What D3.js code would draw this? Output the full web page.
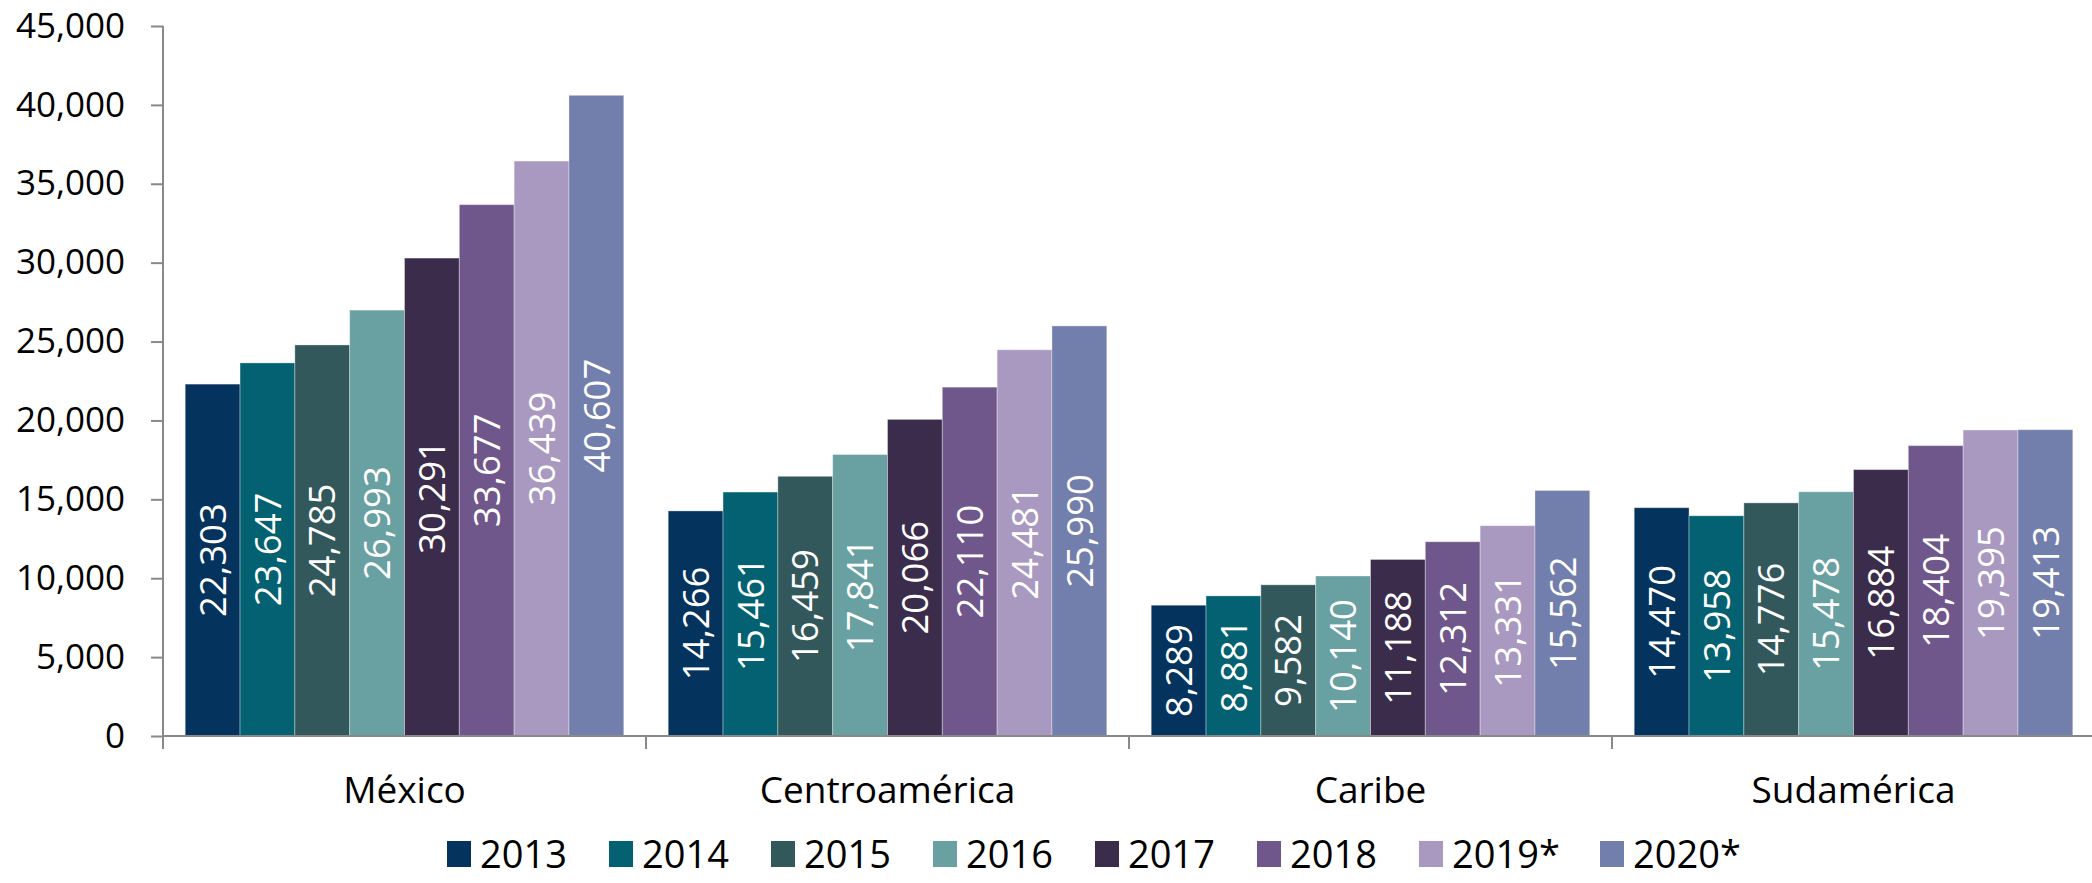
<!DOCTYPE html>
<html>
<head>
<meta charset="utf-8">
<script src="https://cdn.jsdelivr.net/npm/d3@7"></script>
<style>
  body { margin: 0; background: #fff; }
  text { font-family: "Open Sans", sans-serif; }
</style>
</head>
<body>
<div id="chart"></div>
<script>
/** DATA */
const regions = ["México", "Centroamérica", "Caribe", "Sudamérica"];
const years = ["2013", "2014", "2015", "2016", "2017", "2018", "2019*", "2020*"];
const mexico = [22303, 23647, 24785, 26993, 30291, 33677, 36439, 40607];
const centroamerica = [14266, 15461, 16459, 17841, 20066, 22110, 24481, 25990];
const caribe = [8289, 8881, 9582, 10140, 11188, 12312, 13331, 15562];
const sudamerica = [14470, 13958, 14776, 15478, 16884, 18404, 19395, 19413];
const yTicks = [0, 5000, 10000, 15000, 20000, 25000, 30000, 35000, 40000, 45000];
const colors = ["#04335e", "#036171", "#33585c", "#69a0a2", "#3b2c4c", "#6f568b", "#a999c1", "#727eab"];

const seriesByRegion = [mexico, centroamerica, caribe, sudamerica];
const data = regions.map((r, i) => ({
  region: r,
  values: years.map((y, j) => ({ year: y, value: seriesByRegion[i][j] }))
}));

/** CONSTANTS */
const width = 2092;
const height = 883;
const margins = { top: 26, bottom: 147, left: 163, right: -3 };

const x0 = d3.scaleBand()
  .domain(regions)
  .range([margins.left, width - margins.right]);

const bw = x0.bandwidth();
const x1 = d3.scaleBand()
  .domain(years)
  .range([bw * 0.046, bw * 0.954]);

const y = d3.scaleLinear()
  .domain([0, 45000])
  .range([height - margins.bottom, margins.top]);

const color = d3.scaleOrdinal().domain(years).range(colors);
const fmt = d3.format(",");

const svg = d3.select("#chart")
  .append("svg")
  .attr("width", width)
  .attr("height", height);

// bars
const groups = svg.selectAll("g.region")
  .data(data)
  .join("g")
  .attr("class", "region")
  .attr("transform", d => `translate(${x0(d.region)},0)`);

groups.selectAll("rect")
  .data(d => d.values)
  .join("rect")
  .attr("x", d => x1(d.year))
  .attr("y", d => y(d.value))
  .attr("width", x1.bandwidth())
  .attr("height", d => y(0) - y(d.value))
  .attr("fill", d => color(d.year))
  .attr("stroke", "rgba(255,255,255,0.35)")
  .attr("stroke-width", 1);

groups.selectAll("text.val")
  .data(d => d.values)
  .join("text")
  .attr("class", "val")
  .attr("transform", d => `translate(${x1(d.year) + x1.bandwidth() / 2},${(y(d.value) + y(0)) / 2}) rotate(-90)`)
  .attr("text-anchor", "middle")
  .attr("dy", "0.36em")
  .attr("fill", "#fff")
  .style("font-size", "36.5px")
  .text(d => fmt(d.value));

// y axis
const yAxis = svg.append("g")
  .attr("transform", `translate(${margins.left},0)`)
  .call(d3.axisLeft(y).tickValues(yTicks).tickFormat(fmt).tickSize(12).tickPadding(26));
yAxis.select(".domain").attr("stroke", "#898989").attr("stroke-width", 2).attr("d", `M0,${y(45000)}V${y(0)}`);
yAxis.selectAll(".tick line").attr("stroke", "#898989").attr("stroke-width", 2);
yAxis.selectAll(".tick text")
  .attr("fill", "#000")
  .style("font-size", "35px")
  .style("font-family", "'Open Sans', sans-serif");

// x axis
const xAxis = svg.append("g")
  .attr("transform", `translate(0,${y(0)})`);
xAxis.append("path")
  .attr("d", `M${margins.left},0H${width}`)
  .attr("stroke", "#898989")
  .attr("stroke-width", 2);
xAxis.selectAll("line.sep")
  .data(regions)
  .join("line")
  .attr("class", "sep")
  .attr("x1", d => x0(d))
  .attr("x2", d => x0(d))
  .attr("y1", 0)
  .attr("y2", 13)
  .attr("stroke", "#898989")
  .attr("stroke-width", 2);
xAxis.selectAll("text.cat")
  .data(regions)
  .join("text")
  .attr("class", "cat")
  .attr("x", d => x0(d) + bw / 2)
  .attr("y", 67)
  .attr("text-anchor", "middle")
  .style("font-size", "37px")
  .text(d => d);

// legend
const legendX = d3.scaleOrdinal()
  .domain(years)
  .range([447, 609, 771, 933, 1095, 1257, 1419, 1600]);

const legend = svg.append("g").attr("transform", "translate(0,854)");
const items = legend.selectAll("g.item")
  .data(years)
  .join("g")
  .attr("class", "item")
  .attr("transform", d => `translate(${legendX(d)},0)`);
items.append("rect")
  .attr("x", 0)
  .attr("y", -13)
  .attr("width", 24)
  .attr("height", 26)
  .attr("fill", d => color(d));
items.append("text")
  .attr("x", 33)
  .attr("dy", "0.36em")
  .style("font-size", "38px")
  .text(d => d);
</script>
</body>
</html>
